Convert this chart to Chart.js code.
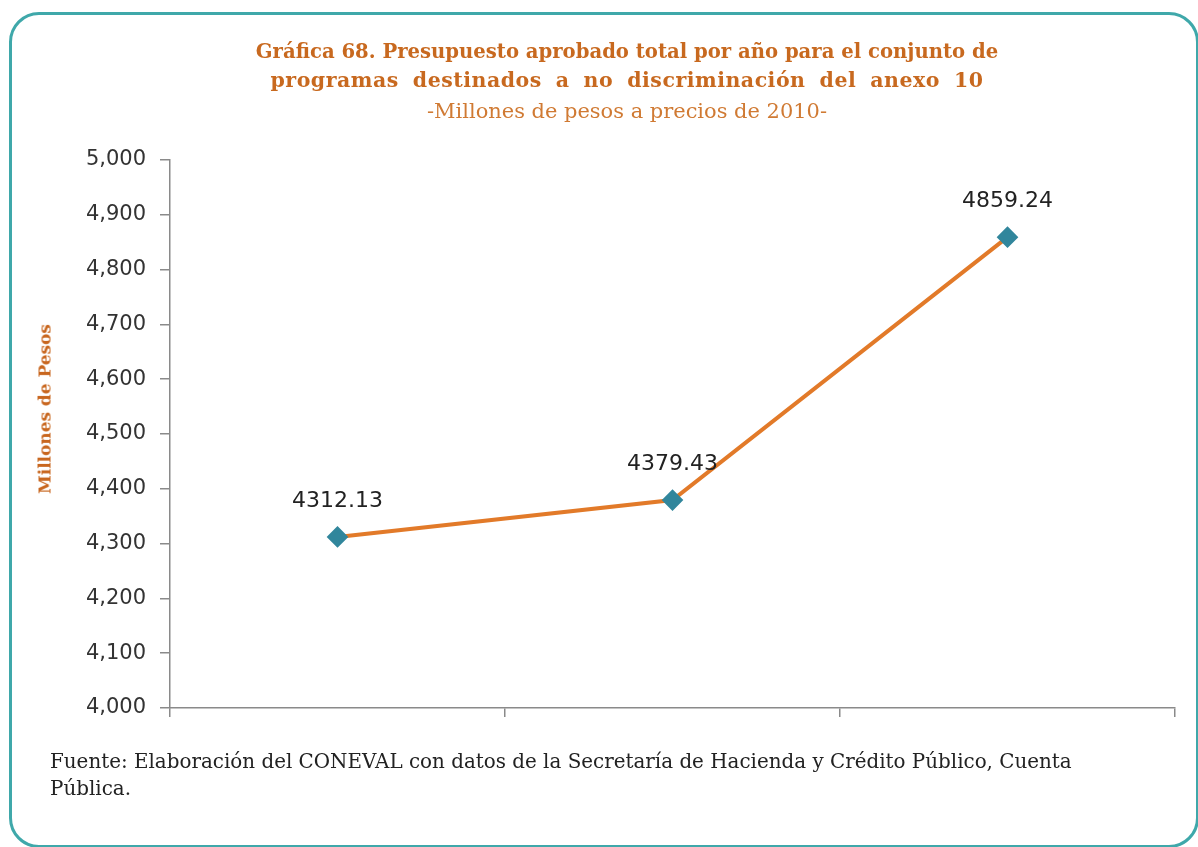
<!DOCTYPE html>
<html>
<head>
<meta charset="utf-8">
<script src="https://cdn.jsdelivr.net/npm/chart.js@4"></script>
<style>
  html, body { margin: 0; padding: 0; background: #fff; }
  #wrap { position: relative; width: 1198px; height: 847px; overflow: hidden; background: #fff; }
  #frame { position: absolute; left: 9px; top: 12px; width: 1184px; height: 830px; border: 3px solid #3fa8aa; border-radius: 30px; }
  canvas { position: absolute; left: 0; top: 0; }
  .t { position: absolute; white-space: nowrap; font-family: "DejaVu Serif", serif; }
  .title { color: #c8691f; font-weight: bold; left: 127px; width: 1000px; text-align: center; }
  .foot { color: #222; left: 50px; }
  #ytitle { color: #c8661e; font-weight: bold; left: 45px; top: 409px; transform: translate(-50%, -50%) rotate(-90deg); line-height: 1; }
</style>
</head>
<body>
<div id="wrap">
  <div id="frame"></div>
  <canvas id="c" width="1198" height="847"></canvas>
  <div class="t title" id="t1" style="top:40px;">Gráfica 68. Presupuesto aprobado total por año para el conjunto de</div>
  <div class="t title" id="t2" style="top:68px;">programas destinados a no discriminación del anexo 10</div>
  <div class="t title" id="t3" style="top:99px;font-weight:normal;color:#d07a33;">-Millones de pesos a precios de 2010-</div>
  <div class="t" id="ytitle"></div>
  <div class="t foot" id="f1" style="top:750px;">Fuente: Elaboración del CONEVAL con datos  de la  Secretaría de Hacienda y Crédito Público, Cuenta</div>
  <div class="t foot" id="f2" style="top:777px;">Pública.</div>
</div>
<script>
// ---- data ----
const categories = ['', '', ''];
const seriesValues = [4312.13, 4379.43, 4859.24];
const yTickMin = 4000;
const yTickMax = 5000;
const yTickStep = 100;
const yAxisTitle = 'Millones de Pesos';

document.getElementById('ytitle').textContent = yAxisTitle;

const measureCtx = document.createElement('canvas').getContext('2d');
function natural(txt, weight, size) {
  measureCtx.font = (weight || 'normal') + ' ' + size + 'px "DejaVu Serif"';
  return measureCtx.measureText(txt).width;
}
function fitWidth(id, target, weight) {
  const el = document.getElementById(id);
  const w = natural(el.textContent, weight, 100);
  el.style.fontSize = (100 * target / w).toFixed(2) + 'px';
}
// fixed font size + letter spacing, fill the rest with word spacing
function fitWords(id, target, weight, size, letter) {
  const el = document.getElementById(id);
  const txt = el.textContent;
  const w = natural(txt, weight, size) + letter * txt.length;
  const gaps = (txt.match(/ /g) || []).length;
  el.style.fontSize = size + 'px';
  el.style.letterSpacing = letter + 'px';
  el.style.wordSpacing = Math.max(0, (target - w) / gaps).toFixed(2) + 'px';
}
fitWidth('t1', 743, 'bold');
fitWords('t2', 713, 'bold', 20.5, 0.5);
fitWidth('t3', 400, 'normal');
fitWidth('f1', 1035, 'normal');
fitWidth('ytitle', 170, 'bold');
document.getElementById('f2').style.fontSize = document.getElementById('f1').style.fontSize;

const dataLabels = {
  id: 'dataLabels',
  afterDatasetsDraw(chart) {
    const ctx = chart.ctx;
    const meta = chart.getDatasetMeta(0);
    ctx.save();
    ctx.font = '22px "DejaVu Sans"';
    ctx.fillStyle = '#222';
    ctx.textAlign = 'center';
    ctx.textBaseline = 'middle';
    meta.data.forEach((pt, i) => {
      ctx.fillText(seriesValues[i].toFixed(2), pt.x, pt.y - 36);
    });
    ctx.restore();
  }
};

new Chart(document.getElementById('c'), {
  type: 'line',
  data: {
    labels: categories,
    datasets: [{
      data: seriesValues,
      borderColor: '#e27a29',
      borderWidth: 4,
      pointStyle: 'rectRot',
      pointRadius: 8,
      pointHoverRadius: 8,
      pointBackgroundColor: '#31869c',
      pointBorderColor: '#31869c',
      tension: 0,
      fill: false
    }]
  },
  options: {
    responsive: false,
    animation: false,
    devicePixelRatio: 1,
    layout: { padding: { left: 30, right: 23, top: 160, bottom: 127 } },
    plugins: { legend: { display: false }, tooltip: { enabled: false }, title: { display: false } },
    scales: {
      x: {
        type: 'category',
        offset: true,
        grid: { offset: true, drawOnChartArea: false, tickLength: 9, color: '#8a8a8a', lineWidth: 1.5 },
        border: { color: '#8a8a8a', width: 1.5 },
        ticks: { display: true, padding: 0, font: { size: 1 } },
        afterFit(s) { s.height = 12; }
      },
      y: {
        min: yTickMin,
        max: yTickMax,
        grid: { drawOnChartArea: false, tickLength: 10, color: '#8a8a8a', lineWidth: 1.5 },
        border: { color: '#8a8a8a', width: 1.5 },
        ticks: {
          stepSize: yTickStep,
          padding: 14,
          color: '#333',
          font: { family: '"DejaVu Sans"', size: 21 },
          callback: v => Number(v).toLocaleString('en-US')
        },
        title: { display: false },
        afterFit(s) { s.width = 140; }
      }
    }
  },
  plugins: [dataLabels]
});
</script>
</body>
</html>
